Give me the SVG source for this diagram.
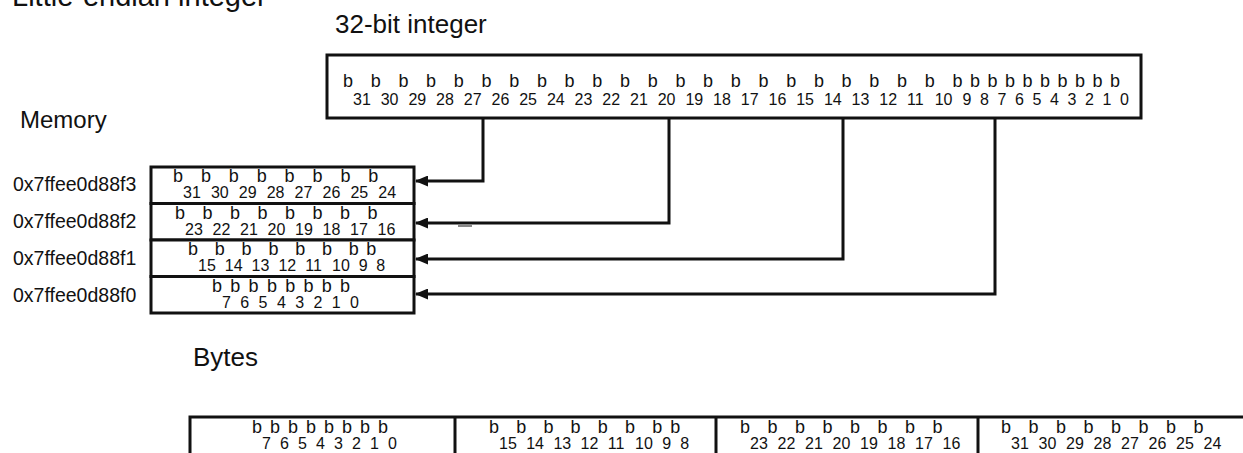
<svg xmlns="http://www.w3.org/2000/svg" width="1243" height="453" viewBox="0 0 1243 453">
<defs>
<style>
.lbl{font-family:"Liberation Sans",Arial,sans-serif;fill:#111}
.box{fill:#fff;stroke:#111;stroke-width:3}
.bits{font-family:"Liberation Sans",Arial,sans-serif;fill:#111;font-size:16px}
.b{font-size:18px}
.conn{fill:none;stroke:#111;stroke-width:3}
</style>
<marker id="ah" viewBox="0 0 13 11" refX="12" refY="5.5" markerWidth="13" markerHeight="11" markerUnits="userSpaceOnUse" orient="auto">
<path d="M0,0 L13,5.5 L0,11 z" fill="#111"/>
</marker>
</defs>
<rect width="1243" height="453" fill="#fff"/>

<text class="lbl" x="12" y="6" font-size="29">Little-endian integer</text>

<g id="integer">
<text class="lbl" x="335" y="33" font-size="26">32-bit integer</text>
<rect class="box" x="327" y="55" width="814" height="63"/>
<text class="bits"><tspan class="b" x="343" y="87">b</tspan><tspan y="105">31</tspan><tspan class="b" x="370.7" y="87">b</tspan><tspan y="105">30</tspan><tspan class="b" x="398.4" y="87">b</tspan><tspan y="105">29</tspan><tspan class="b" x="426.1" y="87">b</tspan><tspan y="105">28</tspan><tspan class="b" x="453.8" y="87">b</tspan><tspan y="105">27</tspan><tspan class="b" x="481.5" y="87">b</tspan><tspan y="105">26</tspan><tspan class="b" x="509.2" y="87">b</tspan><tspan y="105">25</tspan><tspan class="b" x="536.9" y="87">b</tspan><tspan y="105">24</tspan><tspan class="b" x="564.6" y="87">b</tspan><tspan y="105">23</tspan><tspan class="b" x="592.3" y="87">b</tspan><tspan y="105">22</tspan><tspan class="b" x="620" y="87">b</tspan><tspan y="105">21</tspan><tspan class="b" x="647.7" y="87">b</tspan><tspan y="105">20</tspan><tspan class="b" x="675.4" y="87">b</tspan><tspan y="105">19</tspan><tspan class="b" x="703.1" y="87">b</tspan><tspan y="105">18</tspan><tspan class="b" x="730.8" y="87">b</tspan><tspan y="105">17</tspan><tspan class="b" x="758.5" y="87">b</tspan><tspan y="105">16</tspan><tspan class="b" x="786.2" y="87">b</tspan><tspan y="105">15</tspan><tspan class="b" x="813.9" y="87">b</tspan><tspan y="105">14</tspan><tspan class="b" x="841.6" y="87">b</tspan><tspan y="105">13</tspan><tspan class="b" x="869.3" y="87">b</tspan><tspan y="105">12</tspan><tspan class="b" x="897" y="87">b</tspan><tspan y="105">11</tspan><tspan class="b" x="924.7" y="87">b</tspan><tspan y="105">10</tspan><tspan class="b" x="952.4" y="87">b</tspan><tspan y="105">9</tspan><tspan class="b" x="969.9" y="87">b</tspan><tspan y="105">8</tspan><tspan class="b" x="987.4" y="87">b</tspan><tspan y="105">7</tspan><tspan class="b" x="1004.9" y="87">b</tspan><tspan y="105">6</tspan><tspan class="b" x="1022.4" y="87">b</tspan><tspan y="105">5</tspan><tspan class="b" x="1039.9" y="87">b</tspan><tspan y="105">4</tspan><tspan class="b" x="1057.4" y="87">b</tspan><tspan y="105">3</tspan><tspan class="b" x="1074.9" y="87">b</tspan><tspan y="105">2</tspan><tspan class="b" x="1092.4" y="87">b</tspan><tspan y="105">1</tspan><tspan class="b" x="1109.9" y="87">b</tspan><tspan y="105">0</tspan></text>
</g>

<text class="lbl" x="20" y="128" font-size="24">Memory</text>

<g id="mem-f3">
<text class="lbl" x="13" y="191" font-size="19.5">0x7ffee0d88f3</text>
<rect class="box" x="151" y="167" width="263" height="36.5"/>
<text class="bits"><tspan class="b" x="173" y="182">b</tspan><tspan y="198">31</tspan><tspan class="b" x="200.9" y="182">b</tspan><tspan y="198">30</tspan><tspan class="b" x="228.8" y="182">b</tspan><tspan y="198">29</tspan><tspan class="b" x="256.7" y="182">b</tspan><tspan y="198">28</tspan><tspan class="b" x="284.6" y="182">b</tspan><tspan y="198">27</tspan><tspan class="b" x="312.5" y="182">b</tspan><tspan y="198">26</tspan><tspan class="b" x="340.4" y="182">b</tspan><tspan y="198">25</tspan><tspan class="b" x="368.3" y="182">b</tspan><tspan y="198">24</tspan></text>
</g>
<g id="mem-f2">
<text class="lbl" x="13" y="228" font-size="19.5">0x7ffee0d88f2</text>
<rect class="box" x="151" y="203.5" width="263" height="36.5"/>
<text class="bits"><tspan class="b" x="175" y="219">b</tspan><tspan y="235">23</tspan><tspan class="b" x="202.5" y="219">b</tspan><tspan y="235">22</tspan><tspan class="b" x="230" y="219">b</tspan><tspan y="235">21</tspan><tspan class="b" x="257.5" y="219">b</tspan><tspan y="235">20</tspan><tspan class="b" x="285" y="219">b</tspan><tspan y="235">19</tspan><tspan class="b" x="312.5" y="219">b</tspan><tspan y="235">18</tspan><tspan class="b" x="340" y="219">b</tspan><tspan y="235">17</tspan><tspan class="b" x="367.5" y="219">b</tspan><tspan y="235">16</tspan></text>
</g>
<g id="mem-f1">
<text class="lbl" x="13" y="265" font-size="19.5">0x7ffee0d88f1</text>
<rect class="box" x="151" y="240" width="263" height="36.5"/>
<text class="bits"><tspan class="b" x="188" y="255">b</tspan><tspan y="271">15</tspan><tspan class="b" x="214.8" y="255">b</tspan><tspan y="271">14</tspan><tspan class="b" x="241.6" y="255">b</tspan><tspan y="271">13</tspan><tspan class="b" x="268.4" y="255">b</tspan><tspan y="271">12</tspan><tspan class="b" x="295.2" y="255">b</tspan><tspan y="271">11</tspan><tspan class="b" x="322" y="255">b</tspan><tspan y="271">10</tspan><tspan class="b" x="348.8" y="255">b</tspan><tspan y="271">9</tspan><tspan class="b" x="366.3" y="255">b</tspan><tspan y="271">8</tspan></text>
</g>
<g id="mem-f0">
<text class="lbl" x="13" y="302" font-size="19.5">0x7ffee0d88f0</text>
<rect class="box" x="151" y="276.5" width="263" height="36.5"/>
<text class="bits"><tspan class="b" x="212" y="292">b</tspan><tspan y="308">7</tspan><tspan class="b" x="230.3" y="292">b</tspan><tspan y="308">6</tspan><tspan class="b" x="248.6" y="292">b</tspan><tspan y="308">5</tspan><tspan class="b" x="266.9" y="292">b</tspan><tspan y="308">4</tspan><tspan class="b" x="285.2" y="292">b</tspan><tspan y="308">3</tspan><tspan class="b" x="303.5" y="292">b</tspan><tspan y="308">2</tspan><tspan class="b" x="321.8" y="292">b</tspan><tspan y="308">1</tspan><tspan class="b" x="340.1" y="292">b</tspan><tspan y="308">0</tspan></text>
</g>

<g id="connectors">
<polyline class="conn" points="483,118 483,181 416,181" marker-end="url(#ah)"/>
<polyline class="conn" points="669,118 669,223 416,223" marker-end="url(#ah)"/>
<polyline class="conn" points="843,118 843,259 416,259" marker-end="url(#ah)"/>
<polyline class="conn" points="995,118 995,294 416,294" marker-end="url(#ah)"/>
<line x1="458" y1="226" x2="472" y2="226" stroke="#888" stroke-width="2"/>
</g>

<g id="bytes">
<text class="lbl" x="193" y="366" font-size="26">Bytes</text>
<rect class="box" x="190" y="417" width="1060" height="50"/>
<line x1="455" y1="417" x2="455" y2="453" stroke="#111" stroke-width="3"/>
<line x1="716" y1="417" x2="716" y2="453" stroke="#111" stroke-width="3"/>
<line x1="978" y1="417" x2="978" y2="453" stroke="#111" stroke-width="3"/>
<text class="bits"><tspan class="b" x="252" y="433">b</tspan><tspan y="449">7</tspan><tspan class="b" x="270" y="433">b</tspan><tspan y="449">6</tspan><tspan class="b" x="288" y="433">b</tspan><tspan y="449">5</tspan><tspan class="b" x="306" y="433">b</tspan><tspan y="449">4</tspan><tspan class="b" x="324" y="433">b</tspan><tspan y="449">3</tspan><tspan class="b" x="342" y="433">b</tspan><tspan y="449">2</tspan><tspan class="b" x="360" y="433">b</tspan><tspan y="449">1</tspan><tspan class="b" x="378" y="433">b</tspan><tspan y="449">0</tspan></text>
<text class="bits"><tspan class="b" x="489" y="433">b</tspan><tspan y="449">15</tspan><tspan class="b" x="516.2" y="433">b</tspan><tspan y="449">14</tspan><tspan class="b" x="543.4" y="433">b</tspan><tspan y="449">13</tspan><tspan class="b" x="570.6" y="433">b</tspan><tspan y="449">12</tspan><tspan class="b" x="597.8" y="433">b</tspan><tspan y="449">11</tspan><tspan class="b" x="625" y="433">b</tspan><tspan y="449">10</tspan><tspan class="b" x="652.2" y="433">b</tspan><tspan y="449">9</tspan><tspan class="b" x="670.2" y="433">b</tspan><tspan y="449">8</tspan></text>
<text class="bits"><tspan class="b" x="740" y="433">b</tspan><tspan y="449">23</tspan><tspan class="b" x="767.5" y="433">b</tspan><tspan y="449">22</tspan><tspan class="b" x="795" y="433">b</tspan><tspan y="449">21</tspan><tspan class="b" x="822.5" y="433">b</tspan><tspan y="449">20</tspan><tspan class="b" x="850" y="433">b</tspan><tspan y="449">19</tspan><tspan class="b" x="877.5" y="433">b</tspan><tspan y="449">18</tspan><tspan class="b" x="905" y="433">b</tspan><tspan y="449">17</tspan><tspan class="b" x="932.5" y="433">b</tspan><tspan y="449">16</tspan></text>
<text class="bits"><tspan class="b" x="1001" y="433">b</tspan><tspan y="449">31</tspan><tspan class="b" x="1028.5" y="433">b</tspan><tspan y="449">30</tspan><tspan class="b" x="1056" y="433">b</tspan><tspan y="449">29</tspan><tspan class="b" x="1083.5" y="433">b</tspan><tspan y="449">28</tspan><tspan class="b" x="1111" y="433">b</tspan><tspan y="449">27</tspan><tspan class="b" x="1138.5" y="433">b</tspan><tspan y="449">26</tspan><tspan class="b" x="1166" y="433">b</tspan><tspan y="449">25</tspan><tspan class="b" x="1193.5" y="433">b</tspan><tspan y="449">24</tspan></text>
</g>
</svg>
